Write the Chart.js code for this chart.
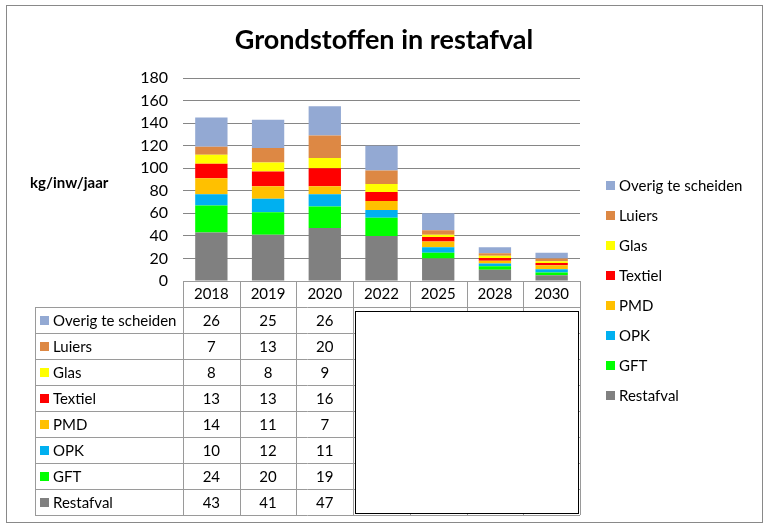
<!DOCTYPE html>
<html>
<head>
<meta charset="utf-8">
<script src="https://cdn.jsdelivr.net/npm/chart.js@4.4.0/dist/chart.umd.min.js"></script>
<style>
  html, body { margin: 0; padding: 0; background: #fff; }
  #wrap { width: 768px; height: 527px; position: relative; }
</style>
</head>
<body>
<div id="wrap"><canvas id="myChart" width="768" height="527"></canvas></div>
<script>
var years = ['2018', '2019', '2020', '2022', '2025', '2028', '2030'];
// series, bottom to top of the stack
var restafval = [43, 41, 47, 40, 20, 10, 5];
var gft       = [24, 20, 19, 16, 5, 3, 2.5];
var opk       = [10, 12, 11, 7, 5, 2.5, 3];
var pmd       = [14, 11, 7, 8, 5, 2.5, 3.5];
var textiel   = [13, 13, 16, 8, 4, 2.5, 2];
var glas      = [8, 8, 9, 7, 2, 2, 1.5];
var luiers    = [7, 13, 20, 12, 4, 2, 2.5];
var overig    = [26, 25, 26, 22, 15, 5.5, 5];
var yTicks = [0, 20, 40, 60, 80, 100, 120, 140, 160, 180];
// only these years are shown in the table, the rest is covered
var tableYears = 3;

var fontName = 'Lato, "Liberation Sans", sans-serif';

var series = [
    { label: 'Restafval', data: restafval, color: '#808080' },
    { label: 'GFT', data: gft, color: '#00ff00' },
    { label: 'OPK', data: opk, color: '#00b0f0' },
    { label: 'PMD', data: pmd, color: '#ffc000' },
    { label: 'Textiel', data: textiel, color: '#ff0000' },
    { label: 'Glas', data: glas, color: '#ffff00' },
    { label: 'Luiers', data: luiers, color: '#dd8844' },
    { label: 'Overig te scheiden', data: overig, color: '#93a9d3' }
];

var extras = {
    id: 'extras',
    beforeDraw: function(chart) {
        var c = chart.ctx;
        c.save();
        c.fillStyle = '#fff';
        c.fillRect(0, 0, chart.width, chart.height);
        c.restore();
    },
    afterDraw: function(chart) {
        var c = chart.ctx;
        var area = chart.chartArea;
        var xs = chart.scales.x;
        var n = years.length;
        var colW = (area.right - area.left) / n;
        var rowH = 26;
        var tableTop = area.bottom + 26;
        var tableLeft = 35;
        var ds = chart.data.datasets;
        var rows = ds.slice().reverse();
        var tableBottom = tableTop + rows.length * rowH;

        c.save();
        // outer border
        c.strokeStyle = '#898989';
        c.lineWidth = 1;
        c.strokeRect(6.5, 5.5, 756, 517);

        // title
        c.fillStyle = '#000';
        c.font = 'bold 27px ' + fontName;
        c.textAlign = 'center';
        c.textBaseline = 'middle';
        c.fillText('Grondstoffen in restafval', 384, 40);

        // y axis title
        c.font = 'bold 15px ' + fontName;
        c.textAlign = 'left';
        c.fillText('kg/inw/jaar', 30, 183);

        // table lines
        c.strokeStyle = '#9a9a9a';
        c.beginPath();
        c.moveTo(area.left, area.bottom + 0.5);
        c.lineTo(area.right, area.bottom + 0.5);
        for (var r = 0; r <= rows.length; r++) {
            var ly = Math.round(tableTop + r * rowH) + 0.5;
            c.moveTo(tableLeft, ly);
            c.lineTo(area.right, ly);
        }
        c.moveTo(tableLeft + 0.5, tableTop);
        c.lineTo(tableLeft + 0.5, tableBottom);
        for (var i = 0; i <= n; i++) {
            var lx = Math.round(area.left + i * colW) + 0.5;
            c.moveTo(lx, area.bottom);
            c.lineTo(lx, tableBottom);
        }
        c.stroke();

        // header labels and values
        c.fillStyle = '#000';
        c.font = '15px ' + fontName;
        c.textAlign = 'center';
        for (var i = 0; i < n; i++) {
            var cx = xs.getPixelForValue(i);
            c.fillText(years[i], cx, area.bottom + 13);
            if (i < tableYears) {
                for (var r = 0; r < rows.length; r++) {
                    c.fillText(String(rows[r].data[i]), cx, tableTop + r * rowH + rowH / 2 + 1);
                }
            }
        }
        // row labels with keys
        c.textAlign = 'left';
        for (var r = 0; r < rows.length; r++) {
            var cy = tableTop + r * rowH + rowH / 2;
            c.fillStyle = rows[r].backgroundColor;
            c.fillRect(40, Math.round(cy - 4), 9, 9);
            c.fillStyle = '#000';
            c.fillText(rows[r].label, 53, cy + 1);
        }

        // white box covering the later years
        c.fillStyle = '#fff';
        c.fillRect(355, 311, 223, 202);
        c.strokeStyle = '#000';
        c.strokeRect(355.5, 311.5, 223, 202);

        // legend on the right
        for (var r = 0; r < rows.length; r++) {
            var ly = 185 + r * 30;
            c.fillStyle = rows[r].backgroundColor;
            c.fillRect(606, ly - 4, 9, 9);
            c.fillStyle = '#000';
            c.fillText(rows[r].label, 619, ly + 1);
        }
        c.restore();
    }
};

var ctx = document.getElementById('myChart').getContext('2d');
var myChart = new Chart(ctx, {
    type: 'bar',
    data: {
        labels: years,
        datasets: series.map(function(s) {
            return {
                label: s.label,
                data: s.data,
                backgroundColor: s.color,
                borderWidth: 0,
                barPercentage: 1,
                categoryPercentage: 0.57
            };
        })
    },
    options: {
        responsive: false,
        animation: false,
        layout: {
            padding: { left: 133, right: 188, top: 78, bottom: 246 }
        },
        plugins: {
            legend: { display: false },
            title: { display: false },
            tooltip: { enabled: false }
        },
        scales: {
            x: {
                stacked: true,
                display: false
            },
            y: {
                stacked: true,
                min: 0,
                max: 180,
                afterFit: function(scale) { scale.width = 50; },
                afterBuildTicks: function(scale) {
                    scale.ticks = yTicks.map(function(v) { return { value: v }; });
                },
                border: { display: false },
                grid: { color: '#868686', drawTicks: false },
                ticks: {
                    padding: 15,
                    color: '#000',
                    font: { family: fontName, size: 16 }
                }
            }
        }
    },
    plugins: [extras]
});
</script>
</body>
</html>
